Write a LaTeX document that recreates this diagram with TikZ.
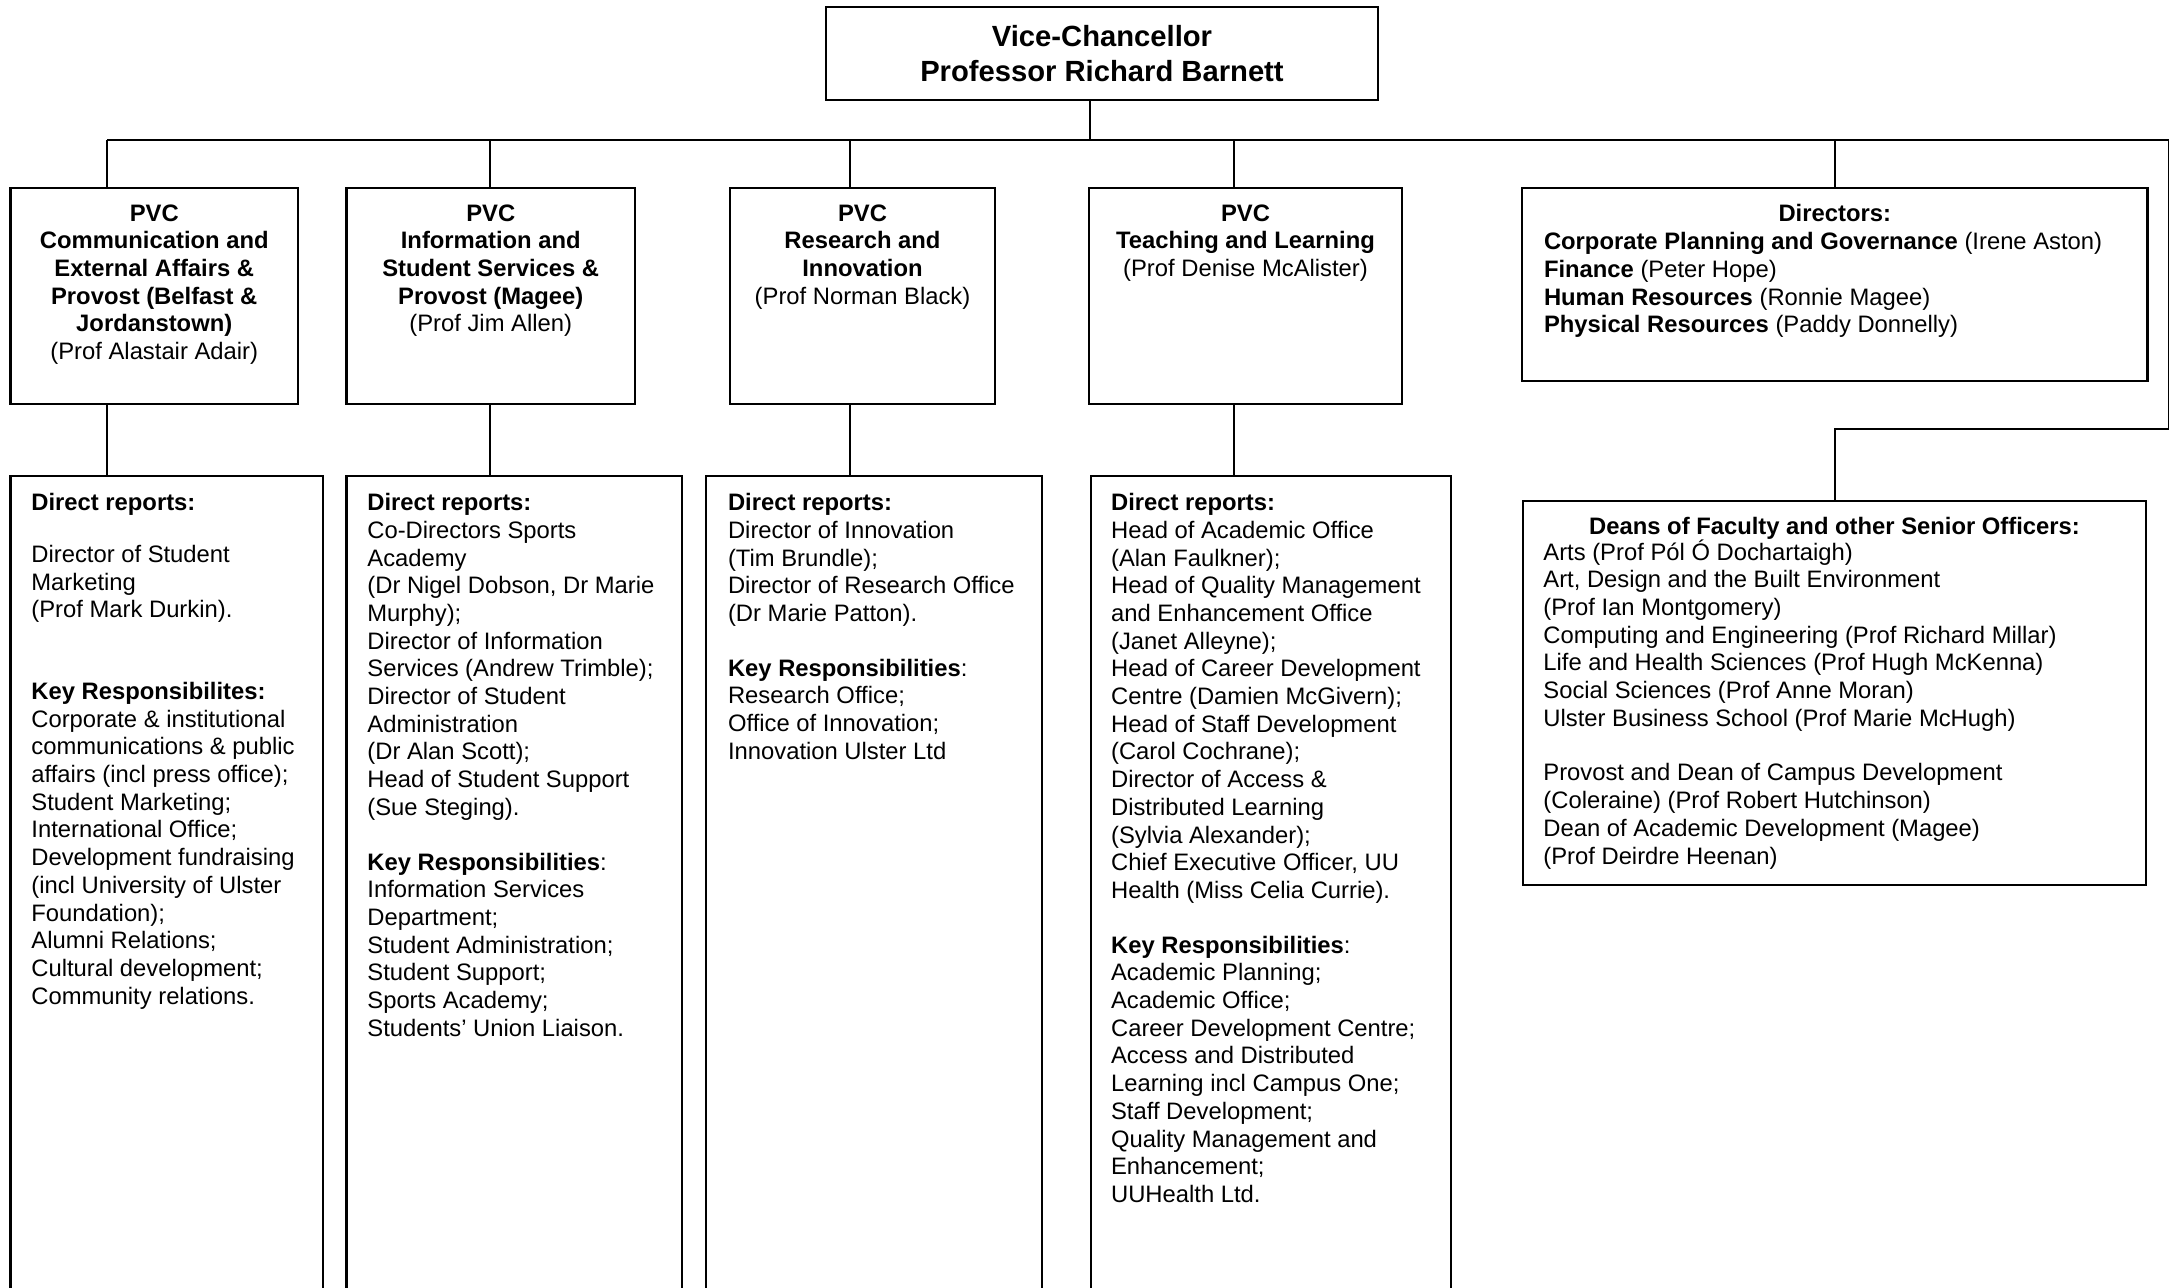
\documentclass[tikz,border=0pt]{standalone}
\usepackage{fontspec}
\setmainfont{Liberation Sans}
\usetikzlibrary{positioning}

\def\px{0.5pt}
\tikzstyle{orgbox}=[draw,rectangle,line width=1.1pt,inner sep=0pt,outer sep=0pt]
\tikzstyle{headtext}=[inner sep=0pt,align=center,font=\fontsize{11.9}{13.85}\selectfont\bfseries]
\tikzstyle{bodytext}=[inner sep=0pt,align=left,font=\fontsize{11.9}{13.85}\selectfont]
\tikzstyle{wire}=[line width=0.7pt]

\begin{document}
\begin{tikzpicture}[x=\px,y=-\px]
       \path[use as bounding box,clip] (0,0) rectangle (2170,1288);

       % top box
       \node[orgbox,minimum width=276pt,minimum height=46.5pt,align=center,
             font=\fontsize{14.6}{17.5}\selectfont\bfseries] (vc) at (1102,53.5)
             {Vice-Chancellor\\Professor Richard Barnett};

       % second row
       \foreach \pos/\name/\w in {{(154.25,296)/pvcA/143.75pt}, {(490.75,296)/pvcB/144.25pt},
                                  {(862.5,296)/pvcC/132.5pt}, {(1245.5,296)/pvcD/156.5pt}} {
           \node[orgbox,minimum width=\w,minimum height=108pt] (\name) at \pos {};
       }
       \node[orgbox,minimum width=312.75pt,minimum height=96.5pt] (dirs) at (1834.75,284.5) {};

       \node[headtext,below=8pt of pvcA.north] (pvcAtxt) {PVC\\Communication and\\External Affairs \&\\Provost (Belfast \&\\Jordanstown)\\{\mdseries (Prof Alastair Adair)}};
       \node[headtext,below=8pt of pvcB.north] (pvcBtxt) {PVC\\Information and\\Student Services \&\\Provost (Magee)\\{\mdseries (Prof Jim Allen)}};
       \node[headtext,below=8pt of pvcC.north] (pvcCtxt) {PVC\\Research and\\Innovation\\{\mdseries (Prof Norman Black)}};
       \node[headtext,below=8pt of pvcD.north] (pvcDtxt) {PVC\\Teaching and Learning\\{\mdseries (Prof Denise McAlister)}};
       \node[headtext,below=8pt of dirs.north] (dirsHead) {Directors:};
       \node[bodytext,below right=22pt and 10.8pt of dirs.north west] (dirsTxt)
             {\textbf{Corporate Planning and Governance} (Irene Aston)\\
              \textbf{Finance} (Peter Hope)\\
              \textbf{Human Resources} (Ronnie Magee)\\
              \textbf{Physical Resources} (Paddy Donnelly)};

       % third row, running off the page
       \foreach \pos/\name/\w in {{(166.6,893)/lowA/156.1pt}, {(514.25,893)/lowB/167.75pt},
                                  {(874,893)/lowC/168.35pt}, {(1270.7,893)/lowD/180pt}} {
           \node[orgbox,minimum width=\w,minimum height=417pt] (\name) at \pos {};
       }
       \node[orgbox,minimum width=311.5pt,minimum height=192pt] (deans) at (1834.5,693) {};

       \node[bodytext,below right=8.5pt and 10.25pt of lowA.north west] (lowAtxt)
             {\textbf{Direct reports:}\\[12pt]
              Director of Student\\Marketing\\(Prof Mark Durkin).\\[27pt]
              \textbf{Key Responsibilites:}\\
              Corporate \& institutional\\communications \& public\\affairs (incl press office);\\
              Student Marketing;\\International Office;\\Development fundraising\\
              (incl University of Ulster\\Foundation);\\Alumni Relations;\\
              Cultural development;\\Community relations.};
       \node[bodytext,below right=8.5pt and 10.25pt of lowB.north west] (lowBtxt)
             {\textbf{Direct reports:}\\
              Co-Directors Sports\\Academy\\(Dr Nigel Dobson, Dr Marie\\Murphy);\\
              Director of Information\\Services (Andrew Trimble);\\Director of Student\\
              Administration\\(Dr Alan Scott);\\Head of Student Support\\(Sue Steging).\\[13.5pt]
              \textbf{Key Responsibilities}:\\
              Information Services\\Department;\\Student Administration;\\Student Support;\\
              Sports Academy;\\Students’ Union Liaison.};
       \node[bodytext,below right=8.5pt and 11pt of lowC.north west] (lowCtxt)
             {\textbf{Direct reports:}\\
              Director of Innovation\\(Tim Brundle);\\Director of Research Office\\(Dr Marie Patton).\\[13.5pt]
              \textbf{Key Responsibilities}:\\
              Research Office;\\Office of Innovation;\\Innovation Ulster Ltd};
       \node[bodytext,below right=8.5pt and 10pt of lowD.north west] (lowDtxt)
             {\textbf{Direct reports:}\\
              Head of Academic Office\\(Alan Faulkner);\\Head of Quality Management\\
              and Enhancement Office\\(Janet Alleyne);\\Head of Career Development\\
              Centre (Damien McGivern);\\Head of Staff Development\\(Carol Cochrane);\\
              Director of Access \&\\Distributed Learning\\(Sylvia Alexander);\\
              Chief Executive Officer, UU\\Health (Miss Celia Currie).\\[13.5pt]
              \textbf{Key Responsibilities}:\\
              Academic Planning;\\Academic Office;\\Career Development Centre;\\
              Access and Distributed\\Learning incl Campus One;\\Staff Development;\\
              Quality Management and\\Enhancement;\\UUHealth Ltd.};
       \node[headtext,below=8pt of deans.north] (deansHead) {Deans of Faculty and other Senior Officers:};
       \node[bodytext,below right=19pt and 10pt of deans.north west] (deansTxt)
             {Arts (Prof Pól Ó Dochartaigh)\\
              Art, Design and the Built Environment\\(Prof Ian Montgomery)\\
              Computing and Engineering (Prof Richard Millar)\\
              Life and Health Sciences (Prof Hugh McKenna)\\
              Social Sciences (Prof Anne Moran)\\
              Ulster Business School (Prof Marie McHugh)\\[13.5pt]
              Provost and Dean of Campus Development\\(Coleraine) (Prof Robert Hutchinson)\\
              Dean of Academic Development (Magee)\\(Prof Deirdre Heenan)};

       % connectors
       \coordinate (busA) at (107,140);
       \coordinate (busB) at (490,140);
       \coordinate (busC) at (850,140);
       \coordinate (busD) at (1234,140);
       \coordinate (busE) at (1835,140);
       \coordinate (busVC) at (1090,140);
       \coordinate (edgeTop) at (2168.5,140);
       \coordinate (edgeLow) at (2168.5,429);
       \coordinate (elbow) at (1835,429);

       \draw[wire] (vc.south -| busVC) -- (busVC);
       \draw[wire] (busA) -- (edgeTop) -- (edgeLow) -- (elbow) -- (deans.north -| elbow);
       \draw[wire] (busE) -- (busE |- dirs.north);
       \foreach \b/\p/\l in {busA/pvcA/lowA, busB/pvcB/lowB, busC/pvcC/lowC, busD/pvcD/lowD} {
           \draw[wire] (\b) -- (\b |- \p.north);
           \draw[wire] (\p.south -| \b) -- (\l.north -| \b);
       }
\end{tikzpicture}
\end{document}
